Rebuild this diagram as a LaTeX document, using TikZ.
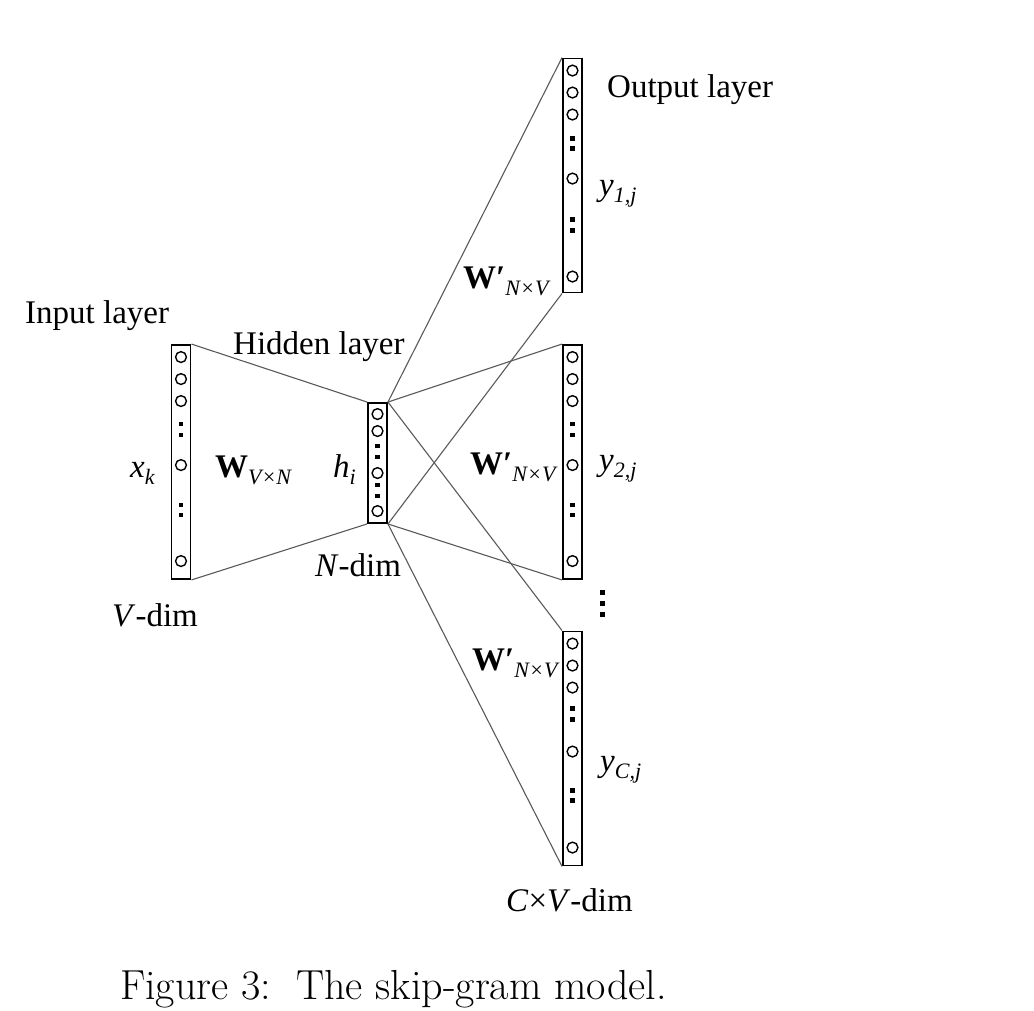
\documentclass[tikz,border=0pt]{standalone}
\usepackage{fontspec}
\newfontfamily\tnr{Liberation Serif}
\usetikzlibrary{calc}
\newcommand\mysub[1]{\raisebox{-0.24em}{\fontsize{22}{22}\selectfont\itshape #1}}
\newcommand\mylayer[6]{%
  \node[lbox, minimum height=#4pt] (#1) at (#2,#3) {};
  \foreach \t in {#5} \draw[unit] ($(#1.north)+(0,\t)$) circle[radius=5.4];
  \foreach \t in {#6} \fill ($(#1.north)+(0,\t)$) +(-2.4,-2.4) rectangle +(2.4,2.4);
}
\begin{document}
\begin{tikzpicture}[x=1pt,y=-1pt,
  lbox/.style={draw, line width=1.9pt, minimum width=19pt, inner sep=0pt, fill=white},
  unit/.style={line width=1.4pt},
  conn/.style={draw=black!65, line width=1.1pt},
  txt/.style={font=\tnr\fontsize{33}{36}\selectfont, inner sep=0pt, anchor=base west},
  captxt/.style={font=\fontsize{42}{46}\selectfont, inner sep=0pt, anchor=base west}]
\useasboundingbox (0,0) rectangle (1034,1010);
% layers
\mylayer{in}{181}{462}{234}{13,35,57,121,217}{80,91,161,171}
\mylayer{hid}{377.5}{463}{120}{12,29,71,109}{44,55,83,94}
\mylayer{o1}{572.5}{175.5}{234}{13,35,57,121,219}{81,91,162,173}
\mylayer{o2}{572.5}{462}{234}{13,35,57,121,217}{80,91,161,171}
\mylayer{o3}{572.5}{748.5}{234}{13,35,57,121,217}{78,89,160,170}
% connectors
\draw[conn] (in.north east) -- (hid.north west);
\draw[conn] (in.south east) -- (hid.south west);
\draw[conn] (hid.north east) -- (o1.north west);
\draw[conn] (hid.north east) -- (o2.north west);
\draw[conn] (hid.north east) -- (o3.north west);
\draw[conn] (hid.south east) -- (o1.south west);
\draw[conn] (hid.south east) -- (o2.south west);
\draw[conn] (hid.south east) -- (o3.south west);
% vertical ellipsis between output layers
\foreach \t [count=\i] in {592,603,614} {
  \coordinate (vd\i) at (602,\t);
  \fill (vd\i) +(-2.5,-2.5) rectangle +(2.5,2.5);
}
% labels
\node[txt] (linput) at (25,323) {Input layer};
\node[txt] (lhidden) at (233,354) {Hidden layer};
\node[txt] (loutput) at (607,97) {Output layer};
\node[txt] (lx) at (130,477) {\itshape x\mysub{k}};
\node[txt] (lw) at (215,477) {\bfseries W\mysub{\mdseries V×N}};
\node[txt] (lh) at (333,477) {\itshape h\mysub{i}};
\node[txt] (lwp1) at (463,288) {\bfseries W′\mysub{\mdseries N×V}};
\node[txt] (lwp2) at (470,474) {\bfseries W′\mysub{\mdseries N×V}};
\node[txt] (lwp3) at (472,670) {\bfseries W′\mysub{\mdseries N×V}};
\node[txt] (ly1) at (599,195) {\itshape y\mysub{1,j}};
\node[txt] (ly2) at (599,470) {\itshape y\mysub{2,j}};
\node[txt] (ly3) at (600,771) {\itshape y\mysub{C,j}};
\node[txt] (lndim) at (315,576) {\textit{N}-dim};
\node[txt] (lvdim) at (112,626) {\textit{V}-dim};
\node[txt] (lcvdim) at (506,911) {\textit{C}×\textit{V}-dim};
\node[captxt] (caption) at (120,999) {Figure 3:\ \ The skip-gram model.};
\end{tikzpicture}
\end{document}
